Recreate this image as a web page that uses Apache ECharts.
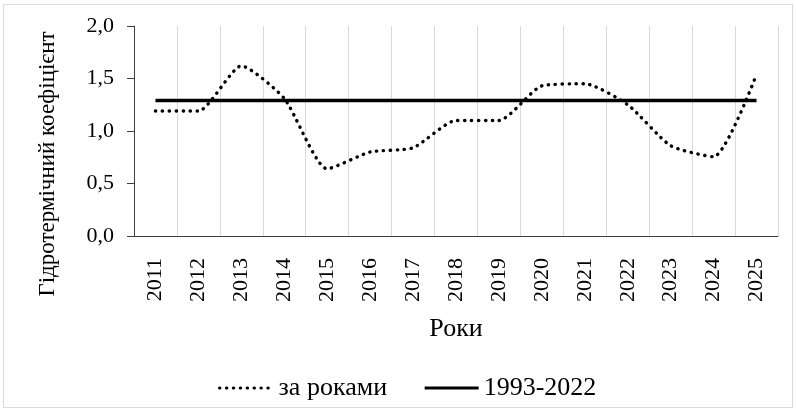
<!DOCTYPE html>
<html>
<head>
<meta charset="utf-8">
<script src="https://cdn.jsdelivr.net/npm/echarts@6/dist/echarts.min.js"></script>
<style>
	html, body { margin: 0; padding: 0; background: #fff; }
	#chart { width: 796px; height: 411px; }
</style>
</head>
<body>
<div id="chart"></div>
<script>
var years = ['2011', '2012', '2013', '2014', '2015', '2016', '2017', '2018',
	'2019', '2020', '2021', '2022', '2023', '2024', '2025'];
// hydrothermal coefficient by year
var byYear = [1.19, 1.19, 1.62, 1.31, 0.64, 0.80, 0.84, 1.10, 1.10, 1.43, 1.45, 1.25, 0.86, 0.755, 1.54];
// long-term norm 1993-2022
var normValue = 1.29;
var normLine = years.map(function() { return normValue; });
var seriesNames = ['за роками', '1993-2022'];
var yMin = 0, yMax = 2, yStep = 0.5;

var font = "'Liberation Serif', 'Times New Roman', serif";
var chart = echarts.init(document.getElementById('chart'));

var option = {
	animation: false,
	backgroundColor: '#fff',
	textStyle: { fontFamily: font, color: '#000' },
	grid: {
		left: 134,
		top: 26,
		right: 18,
		bottom: 175
	},
	legend: {
		left: 213,
		top: 370,
		itemWidth: 54,
		itemHeight: 10,
		itemGap: 36,
		selectedMode: false,
		itemStyle: { color: 'rgba(0,0,0,0)', borderWidth: 0 },
		lineStyle: { width: 3.2 },
		textStyle: { fontFamily: font, fontSize: 26, color: '#000' },
		data: seriesNames
	},
	graphic: [{
		type: 'rect',
		shape: { x: 3.5, y: 4.5, width: 789, height: 403 },
		style: { fill: 'none', stroke: '#d9d9d9', lineWidth: 1 },
		silent: true,
		z: -1
	}, {
		type: 'text',
		x: 48,
		y: 164,
		rotation: Math.PI / 2,
		style: {
			text: 'Гідротермічний коефіцієнт',
			fontFamily: font,
			fontSize: 23,
			fill: '#000',
			align: 'center',
			verticalAlign: 'middle'
		}
	}],
	xAxis: {
		type: 'category',
		data: years,
		boundaryGap: true,
		name: 'Роки',
		nameLocation: 'middle',
		nameGap: 80,
		nameTextStyle: { fontFamily: font, fontSize: 26, color: '#000' },
		axisLine: { lineStyle: { color: '#404040', width: 1 } },
		axisTick: { length: 7, lineStyle: { color: '#404040' } },
		axisLabel: {
			rotate: 90,
			margin: 22,
			interval: 0,
			fontFamily: font,
			fontSize: 22,
			color: '#000'
		},
		splitLine: { show: true, lineStyle: { color: '#d9d9d9', width: 1 } }
	},
	yAxis: {
		type: 'value',
		min: yMin,
		max: yMax,
		interval: yStep,
		axisLine: { show: true, lineStyle: { color: '#404040', width: 1 } },
		axisTick: { show: true, length: 7, lineStyle: { color: '#404040' } },
		axisLabel: {
			margin: 20,
			fontFamily: font,
			fontSize: 22,
			color: '#000',
			formatter: function(v) {
				return v.toFixed(1).replace('.', ',');
			}
		},
		splitLine: { show: false }
	},
	series: [{
		name: seriesNames[0],
		type: 'line',
		data: byYear,
		smooth: 0.2,
		symbol: 'none',
		lineStyle: {
			color: '#000',
			width: 3.4,
			type: [0.3, 6.6],
			cap: 'round'
		},
		z: 3
	}, {
		name: seriesNames[1],
		type: 'line',
		data: normLine,
		symbol: 'none',
		lineStyle: { color: '#000', width: 3.5, type: 'solid' },
		z: 2
	}]
};

chart.setOption(option);
</script>
</body>
</html>
